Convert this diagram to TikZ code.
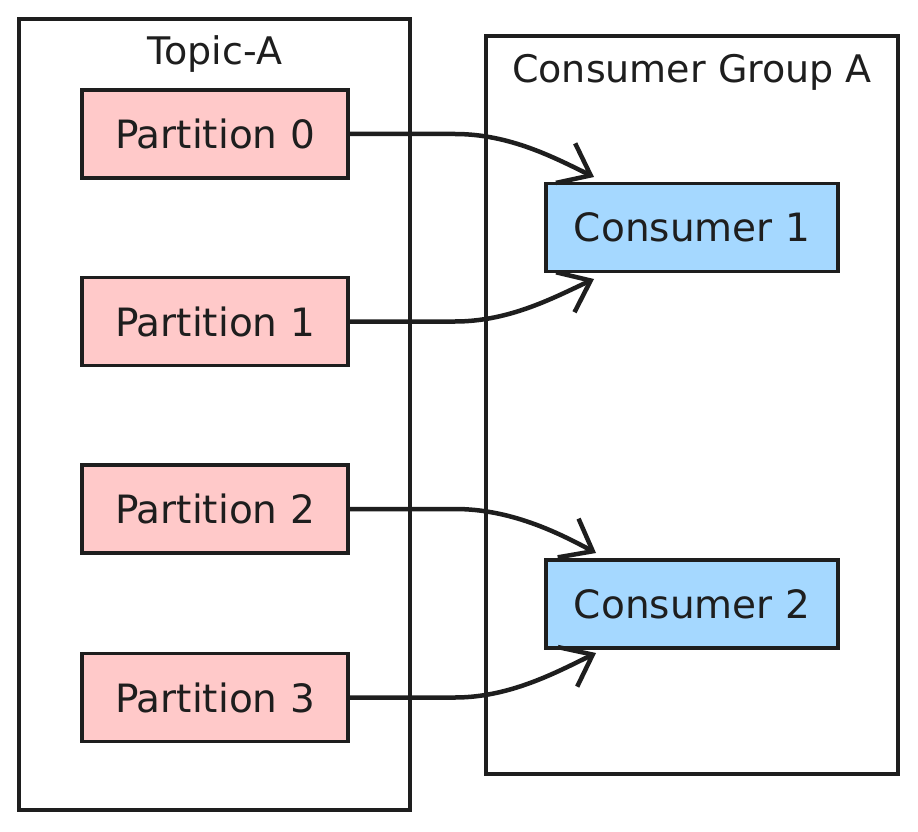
\documentclass[tikz,border=0pt]{standalone}
\usepackage{fontspec}
\setmainfont{DejaVu Sans}
\usetikzlibrary{arrows.meta}
\definecolor{ink}{HTML}{1E1E1E}
\definecolor{pinkfill}{HTML}{FFC9C9}
\definecolor{bluefill}{HTML}{A5D8FF}
\begin{document}
\begin{tikzpicture}[x=1pt,y=-1pt,
  container/.style={draw=ink,line width=3.5pt,fill=white,inner sep=0pt},
  partbox/.style={draw=ink,line width=3.5pt,fill=pinkfill,minimum width=266pt,minimum height=88pt,inner sep=0pt,font=\fontsize{39}{46}\selectfont,text=ink},
  consbox/.style={draw=ink,line width=3.5pt,fill=bluefill,minimum width=292pt,minimum height=88pt,inner sep=0pt,font=\fontsize{39}{46}\selectfont,text=ink},
  title/.style={font=\fontsize{38}{46}\selectfont,text=ink,inner sep=0pt},
  flow/.style={draw=ink,line width=4.5pt,line cap=round,-{Straight Barb[length=28pt,width=44pt,line width=4.5pt]}}]
\useasboundingbox (0,0) rectangle (918,832);
\node[container,minimum width=391pt,minimum height=791pt] (topic) at (214.5,414.5) {};
\node[container,minimum width=412pt,minimum height=738pt] (group) at (692,405) {};
\node[title] (topiclbl) at (215,54) {Topic-A};
\node[title] (grouplbl) at (692,72) {Consumer Group A};
\node[partbox] (p0) at (215,134) {Partition 0};
\node[partbox] (p1) at (215,321.5) {Partition 1};
\node[partbox] (p2) at (215,509) {Partition 2};
\node[partbox] (p3) at (215,697.5) {Partition 3};
\node[consbox] (c1) at (692,227.5) {Consumer 1};
\node[consbox] (c2) at (692,604) {Consumer 2};
\coordinate (t0) at (594,177);
\coordinate (t1) at (594,279);
\coordinate (t2) at (596,553);
\coordinate (t3) at (596,653);
\draw[flow] (p0.east) -- (455,134) .. controls (510,134) and (555,158) .. (t0);
\draw[flow] (p1.east) -- (455,321.5) .. controls (510,321.5) and (555,297) .. (t1);
\draw[flow] (p2.east) -- (455,509) .. controls (510,509) and (557,532) .. (t2);
\draw[flow] (p3.east) -- (455,697.5) .. controls (510,697.5) and (557,672) .. (t3);
\end{tikzpicture}
\end{document}
